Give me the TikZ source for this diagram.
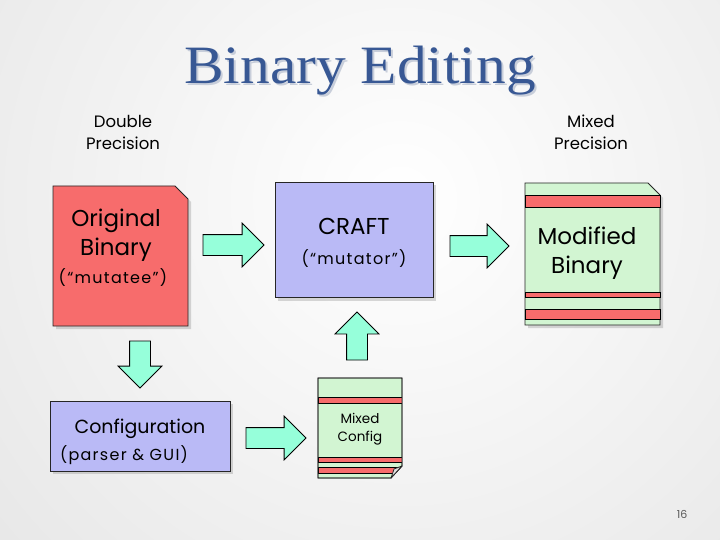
\documentclass[tikz,border=0pt]{standalone}
\usepackage{fontspec}
\setmainfont{Poppins}
\newfontfamily\titlefont[FakeStretch=1.1]{Liberation Serif}
\newfontfamily\spacedfont[LetterSpace=8]{Poppins}
\usetikzlibrary{shapes.arrows,shadows}
\definecolor{origred}{RGB}{247,108,108}
\definecolor{craftblue}{RGB}{186,186,246}
\definecolor{mixgreen}{RGB}{210,245,210}
\definecolor{arrowaqua}{RGB}{150,255,218}
\definecolor{titleblue}{RGB}{56,88,148}
\definecolor{titleshade}{RGB}{200,206,218}
\definecolor{pagegray}{RGB}{90,90,90}
\tikzset{
  blockarrow/.style={single arrow, draw=black, fill=arrowaqua, line width=0.8pt,
    inner xsep=0pt, inner ysep=10pt, outer sep=0pt, minimum width=43pt,
    single arrow head extend=11.5pt, anchor=tail},
  uprightarrow/.style={blockarrow, inner xsep=10pt, inner ysep=0pt},
  softshadow/.style={drop shadow={opacity=0.3, shadow xshift=3pt, shadow yshift=-3pt}},
  progbox/.style={rectangle, draw=black!85, fill=craftblue, line width=0.8pt,
    inner sep=0pt, outer sep=0pt, softshadow},
  docline/.style={draw=black!85, line width=0.8pt},
  stripe/.style={draw=black, fill=origred, line width=0.6pt},
  bigtext/.style={anchor=base, inner sep=0pt, font=\fontsize{23}{26}\selectfont},
  midtext/.style={anchor=base, inner sep=0pt, font=\fontsize{19}{22}\selectfont},
  smalltext/.style={anchor=base, inner sep=0pt, font=\spacedfont\fontsize{16}{19}\selectfont},
  tinytext/.style={anchor=base, inner sep=0pt, font=\fontsize{13.5}{16}\selectfont},
  headtext/.style={anchor=base, inner sep=0pt, font=\fontsize{16.5}{19}\selectfont},
}
\newcommand{\shadowedtitle}[1]{\rlap{\hspace{2pt}\raisebox{-2pt}{\textcolor{titleshade}{#1}}}\textcolor{titleblue}{#1}}
\begin{document}
\begin{tikzpicture}[x=1pt,y=-1pt]
            \useasboundingbox (0,0) rectangle (720,540);
            % Slide background
            \begin{scope}
            \clip (0,0) rectangle (720,540);
            \shade[inner color=white, outer color=black!9] (-120,-320) rectangle (920,720);%
            \end{scope}

            % Title with its shadow
            \node [anchor=base, inner sep=0pt, font=\titlefont\fontsize{54}{60}\selectfont] (title) at (360,84) {\shadowedtitle{Binary Editing}};%

            % Precision labels
            \node [headtext] (dbl) at (123,128) {Double};%
            \node [headtext] (dblprec) at (123,150) {Precision};%
            \node [headtext] (mix) at (591,128) {Mixed};%
            \node [headtext] (mixprec) at (591,150) {Precision};%

            % Drawing original binary document
            \path [docline, fill=origred, softshadow] (53,186) -- (175,186) -- (188,199) -- (188,326) -- (53,326) -- cycle;%
            \node [bigtext] (origA) at (116,226) {Original};%
            \node [bigtext] (origB) at (116,255) {Binary};%
            \node [smalltext] (mutatee) at (113,283) {(“mutatee”)};%

            % Drawing CRAFT box
            \node [progbox, minimum width=158pt, minimum height=115pt] (craft) at (354,240) {};%
            \node [bigtext] (craftname) at (354,235) {CRAFT};%
            \node [smalltext] (mutator) at (354,264) {(“mutator”)};%

            % Drawing modified binary document
            \path [docline, fill=mixgreen, softshadow] (525,183) -- (648,183) -- (660,195) -- (660,325) -- (525,325) -- cycle;%
            \draw [stripe] (525,195) rectangle (660,207);%
            \draw [stripe] (525,292) rectangle (660,297);%
            \draw [stripe] (525,309) rectangle (660,319);%
            \node [bigtext] (modA) at (587,244) {Modified};%
            \node [bigtext] (modB) at (587,273) {Binary};%

            % Drawing configuration box
            \node [progbox, minimum width=180pt, minimum height=70pt] (config) at (140,436) {};%
            \node [midtext] (configname) at (140,433) {Configuration};%
            \node [smalltext] (parser) at (124,460) {(parser \& GUI)};%

            % Drawing mixed config document
            \path [docline, fill=mixgreen] (318,378) -- (402,378) -- (402,466) -- (391,478) -- (318,478) -- cycle;%
            \begin{scope}
            \clip (318,378) -- (402,378) -- (402,466) -- (391,478) -- (318,478) -- cycle;
            \draw [stripe] (318,397) rectangle (402,403);%
            \draw [stripe] (318,457) rectangle (402,462);%
            \draw [stripe] (318,467) rectangle (402,473);%
            \end{scope}
            \draw [docline] (318,378) -- (402,378) -- (402,466) -- (391,478) -- (318,478) -- cycle;%
            \draw [docline, fill=black!12, line join=round] (391,478) -- (394,469) -- (402,466) -- cycle;%
            \node [tinytext] (mixcfgA) at (360,423) {Mixed};%
            \node [tinytext] (mixcfgB) at (360,441) {Config};%

            % Drawing block arrows
            \node [blockarrow, minimum height=61pt] (origtocraft) at (203,245) {};%
            \node [blockarrow, minimum height=59pt] (crafttomod) at (450,246) {};%
            \node [uprightarrow, minimum height=48pt, shape border rotate=90] (cfgtocraft) at (357,360) {};%
            \node [blockarrow, minimum height=60pt] (guitocfg) at (246,438) {};%
            \node [uprightarrow, minimum height=47pt, shape border rotate=270] (origtogui) at (140,341) {};%

            % Page number
            \node [anchor=base, inner sep=0pt, font=\fontsize{11}{13}\selectfont, text=pagegray] (pagenum) at (682,518) {16};%
\end{tikzpicture}
\end{document}
